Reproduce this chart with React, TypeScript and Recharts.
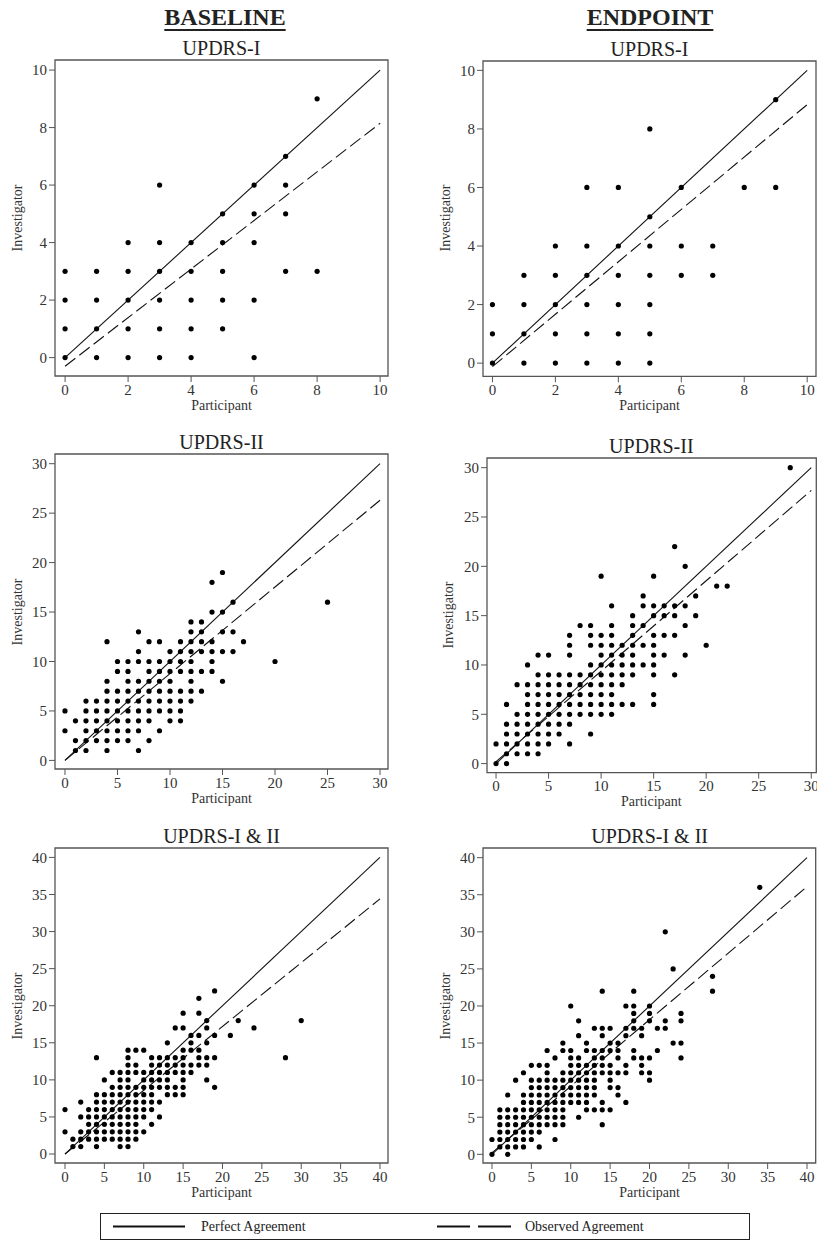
import {
  ReferenceArea,
  ReferenceLine,
  Scatter,
  ScatterChart,
  XAxis,
  YAxis,
} from "recharts";

// [participant score, investigator scores seen at that participant score]
type Column = [number, number[]];

const ticksI = [0, 2, 4, 6, 8, 10];
const ticksII = [0, 5, 10, 15, 20, 25, 30];
const ticksIII = [0, 5, 10, 15, 20, 25, 30, 35, 40];

const baselineI: Column[] = [
  [0, [0, 1, 2, 3]],
  [1, [0, 1, 2, 3]],
  [2, [0, 1, 2, 3, 4]],
  [3, [0, 1, 2, 3, 4, 6]],
  [4, [0, 1, 2, 3, 4]],
  [5, [1, 2, 3, 4, 5]],
  [6, [0, 2, 4, 5, 6]],
  [7, [3, 5, 6, 7]],
  [8, [3, 9]],
];

const endpointI: Column[] = [
  [0, [0, 1, 2]],
  [1, [0, 1, 2, 3]],
  [2, [0, 1, 2, 3, 4]],
  [3, [0, 1, 2, 3, 4, 6]],
  [4, [0, 1, 2, 3, 4, 6]],
  [5, [0, 1, 2, 3, 4, 5, 8]],
  [6, [3, 4, 6]],
  [7, [3, 4]],
  [8, [6]],
  [9, [6, 9]],
];

const baselineII: Column[] = [
  [0, [3, 5]],
  [1, [1, 2, 4]],
  [2, [1, 2, 3, 4, 5, 6]],
  [3, [2, 3, 4, 5, 6]],
  [4, [1, 2, 3, 4, 5, 6, 7, 8, 12]],
  [5, [2, 3, 4, 5, 6, 7, 9, 10]],
  [6, [2, 3, 4, 5, 6, 7, 8, 9, 10]],
  [7, [1, 3, 4, 5, 6, 7, 8, 10, 11, 13]],
  [8, [2, 4, 5, 6, 7, 8, 9, 10, 12]],
  [9, [3, 5, 6, 7, 8, 9, 10, 12]],
  [10, [4, 5, 6, 7, 8, 9, 10, 11]],
  [11, [4, 5, 6, 7, 9, 10, 11, 12]],
  [12, [6, 7, 8, 9, 10, 11, 12, 13, 14]],
  [13, [7, 9, 11, 12, 13, 14]],
  [14, [9, 10, 11, 12, 15, 18]],
  [15, [8, 11, 13, 15, 19]],
  [16, [11, 13, 16]],
  [17, [12]],
  [20, [10]],
  [25, [16]],
];

const endpointII: Column[] = [
  [0, [0, 2]],
  [1, [0, 1, 2, 3, 4, 6]],
  [2, [1, 2, 3, 4, 5, 8]],
  [3, [1, 2, 3, 4, 5, 6, 7, 8, 10]],
  [4, [1, 2, 3, 4, 5, 6, 7, 8, 9, 11]],
  [5, [2, 3, 4, 5, 6, 7, 8, 9, 11]],
  [6, [3, 4, 5, 6, 7, 8, 9]],
  [7, [2, 4, 5, 6, 7, 8, 9, 11, 12, 13]],
  [8, [5, 6, 7, 8, 9, 14]],
  [9, [3, 5, 6, 7, 8, 9, 10, 12, 13, 14]],
  [10, [5, 6, 7, 8, 9, 10, 11, 12, 13, 19]],
  [11, [5, 6, 7, 8, 9, 10, 11, 12, 13, 14, 16]],
  [12, [6, 8, 9, 10, 11, 12]],
  [13, [6, 9, 10, 11, 12, 13, 14, 15]],
  [14, [10, 12, 14, 16, 17]],
  [15, [6, 7, 9, 10, 11, 12, 13, 15, 16, 19]],
  [16, [11, 13, 15, 16]],
  [17, [9, 13, 15, 16, 22]],
  [18, [11, 14, 16, 20]],
  [19, [15, 17]],
  [20, [12]],
  [21, [18]],
  [22, [18]],
  [28, [30]],
];

const baselineIII: Column[] = [
  [0, [3, 6]],
  [1, [1, 2]],
  [2, [1, 2, 3, 5, 7]],
  [3, [2, 3, 4, 5, 6]],
  [4, [1, 2, 3, 4, 5, 6, 7, 8, 13]],
  [5, [2, 3, 4, 5, 6, 7, 8, 10]],
  [6, [2, 3, 4, 5, 6, 7, 8, 9, 11]],
  [7, [1, 2, 3, 4, 5, 6, 7, 8, 9, 10, 11]],
  [8, [1, 2, 3, 4, 5, 6, 7, 8, 9, 10, 11, 12, 13, 14]],
  [9, [2, 3, 4, 5, 6, 7, 8, 9, 11, 12, 14]],
  [10, [3, 5, 6, 7, 8, 9, 10, 11, 14]],
  [11, [4, 6, 7, 8, 9, 10, 11, 12, 13]],
  [12, [5, 7, 9, 10, 11, 12, 13]],
  [13, [8, 9, 10, 11, 12, 13, 15]],
  [14, [8, 9, 11, 12, 13, 17]],
  [15, [8, 9, 10, 11, 12, 13, 14, 17, 19]],
  [16, [11, 12, 14, 15, 16]],
  [17, [12, 13, 14, 16, 19, 21]],
  [18, [10, 12, 13, 15, 17, 18]],
  [19, [9, 13, 16, 22]],
  [21, [16]],
  [22, [18]],
  [24, [17]],
  [28, [13]],
  [30, [18]],
];

const endpointIII: Column[] = [
  [0, [0, 2]],
  [1, [1, 2, 3, 4, 5, 6]],
  [2, [0, 1, 2, 3, 4, 5, 6, 8]],
  [3, [1, 2, 3, 4, 5, 6, 10]],
  [4, [1, 2, 3, 4, 5, 6, 7, 8, 11]],
  [5, [2, 3, 4, 5, 6, 7, 8, 9, 10, 12]],
  [6, [1, 3, 4, 5, 6, 7, 8, 9, 10, 12]],
  [7, [4, 5, 6, 7, 8, 9, 10, 11, 12, 14]],
  [8, [2, 4, 5, 6, 7, 8, 9, 10, 13]],
  [9, [4, 5, 6, 7, 8, 9, 10, 11, 14, 15]],
  [10, [7, 8, 9, 10, 11, 12, 13, 14, 20]],
  [11, [5, 7, 8, 9, 10, 11, 12, 13, 16, 18]],
  [12, [6, 7, 8, 9, 10, 11, 12, 14, 15]],
  [13, [6, 8, 9, 10, 11, 12, 13, 14, 17]],
  [14, [4, 6, 7, 11, 12, 13, 14, 16, 17, 22]],
  [15, [6, 9, 10, 11, 12, 14, 15, 17]],
  [16, [8, 9, 11, 13, 14, 15]],
  [17, [7, 11, 12, 16, 17, 20]],
  [18, [13, 14, 17, 18, 19, 20, 22]],
  [19, [11, 12, 13, 16, 17]],
  [20, [10, 11, 13, 18, 19, 20]],
  [21, [14, 17]],
  [22, [17, 18, 30]],
  [23, [15, 25]],
  [24, [13, 15, 18, 19]],
  [28, [22, 24]],
  [34, [36]],
];

// observed agreement line: investigator value at participant = 0 and at the axis max
const baselineIFit = [-0.3, 8.15];
const endpointIFit = [-0.12, 8.83];
const baselineIIFit = [0.0, 26.3];
const endpointIIFit = [0.2, 27.7];
const baselineIIIFit = [0.0, 34.4];
const endpointIIIFit = [0.2, 36.1];

const FONT = '"Liberation Serif", "Times New Roman", serif';
const AXIS_COLOR = "#555";

interface Box {
  l: number;
  t: number;
  r: number;
  b: number;
}

interface PanelProps {
  title: string;
  cols: Column[];
  fit: number[];
  max: number;
  ticks: number[];
  box: Box;
  xDom: [number, number];
  yDom: [number, number];
}

const Dot = (props: any) => (
  <circle cx={props.cx} cy={props.cy} r={2.6} fill="#000" />
);

function Panel({ title, cols, fit, max, ticks, box, xDom, yDom }: PanelProps) {
  const data = cols.flatMap(([x, ys]) => ys.map((y) => ({ x, y })));
  const yAxisW = 45;
  const xAxisH = 35;
  const boxW = box.r - box.l;
  const boxH = box.b - box.t;
  const cx = box.l + boxW / 2;
  const cy = box.t + boxH / 2;

  return (
    <>
      <div
        style={{
          position: "absolute",
          left: cx - 100,
          width: 200,
          top: box.t - 22,
          height: 20,
          lineHeight: "20px",
          textAlign: "center",
          fontFamily: FONT,
          fontSize: 20,
          color: "#222",
        }}
      >
        {title}
      </div>
      <div
        style={{
          position: "absolute",
          left: box.l - yAxisW,
          top: box.t - 10,
        }}
      >
        <ScatterChart
          width={boxW + yAxisW + 10}
          height={boxH + 10 + xAxisH}
          margin={{ top: 10, right: 10, bottom: 0, left: 0 }}
        >
          <XAxis
            type="number"
            dataKey="x"
            domain={xDom}
            ticks={ticks}
            interval={0}
            allowDataOverflow
            height={xAxisH}
            axisLine={false}
            tickLine={{ stroke: AXIS_COLOR }}
            tickSize={6}
            tick={{ fill: "#333", fontSize: 15, fontFamily: FONT }}
          />
          <YAxis
            type="number"
            dataKey="y"
            domain={yDom}
            ticks={ticks}
            interval={0}
            allowDataOverflow
            width={yAxisW}
            axisLine={false}
            tickLine={{ stroke: AXIS_COLOR }}
            tickSize={6}
            tick={{ fill: "#333", fontSize: 15, fontFamily: FONT }}
          />
          <ReferenceArea
            x1={xDom[0]}
            x2={xDom[1]}
            y1={yDom[0]}
            y2={yDom[1]}
            fill="none"
            stroke={AXIS_COLOR}
            strokeWidth={1.3}
            ifOverflow="visible"
          />
          <Scatter data={data} shape={Dot} isAnimationActive={false} />
          <ReferenceLine
            segment={[
              { x: 0, y: 0 },
              { x: max, y: max },
            ]}
            stroke="#111"
            strokeWidth={1.1}
            ifOverflow="visible"
          />
          <ReferenceLine
            segment={[
              { x: 0, y: fit[0] },
              { x: max, y: fit[1] },
            ]}
            stroke="#111"
            strokeWidth={1.1}
            strokeDasharray="13 5"
            ifOverflow="visible"
          />
        </ScatterChart>
      </div>
      <div
        style={{
          position: "absolute",
          left: box.l - 37.5 - 60,
          width: 120,
          top: cy - 8,
          height: 16,
          lineHeight: "16px",
          textAlign: "center",
          transform: "rotate(-90deg)",
          fontFamily: FONT,
          fontSize: 14,
          color: "#333",
        }}
      >
        Investigator
      </div>
      <div
        style={{
          position: "absolute",
          left: cx - 60,
          width: 120,
          top: box.b + 22,
          height: 16,
          lineHeight: "16px",
          textAlign: "center",
          fontFamily: FONT,
          fontSize: 14,
          color: "#333",
        }}
      >
        Participant
      </div>
    </>
  );
}

const headStyle = {
  position: "absolute" as const,
  width: 240,
  top: 5,
  height: 24,
  lineHeight: "24px",
  textAlign: "center" as const,
  fontFamily: FONT,
  fontSize: 24,
  fontWeight: 700,
  color: "#222",
  textDecoration: "underline",
  textDecorationThickness: 2,
  textUnderlineOffset: 4,
};

export default function App() {
  return (
    <div
      style={{
        position: "absolute",
        left: 0,
        top: 0,
        width: 817,
        height: 1241,
        overflow: "hidden",
        background: "#fff",
      }}
    >
      <div style={{ ...headStyle, left: 225 - 120 }}>BASELINE</div>
      <div style={{ ...headStyle, left: 650 - 120 }}>ENDPOINT</div>

      <Panel
        title="UPDRS-I"
        cols={baselineI}
        fit={baselineIFit}
        max={10}
        ticks={ticksI}
        box={{ l: 55, t: 60, r: 388, b: 376 }}
        xDom={[-0.32, 10.25]}
        yDom={[-0.64, 10.35]}
      />
      <Panel
        title="UPDRS-I"
        cols={endpointI}
        fit={endpointIFit}
        max={10}
        ticks={ticksI}
        box={{ l: 483, t: 60.7, r: 816, b: 376 }}
        xDom={[-0.3, 10.28]}
        yDom={[-0.45, 10.32]}
      />
      <Panel
        title="UPDRS-II"
        cols={baselineII}
        fit={baselineIIFit}
        max={30}
        ticks={ticksII}
        box={{ l: 55, t: 454.3, r: 388, b: 769.3 }}
        xDom={[-0.95, 30.76]}
        yDom={[-0.87, 30.98]}
      />
      <Panel
        title="UPDRS-II"
        cols={endpointII}
        fit={endpointIIFit}
        max={30}
        ticks={ticksII}
        box={{ l: 486.7, t: 457.7, r: 816, b: 772.3 }}
        xDom={[-0.86, 30.48]}
        yDom={[-0.91, 30.98]}
      />
      <Panel
        title="UPDRS-I & II"
        cols={baselineIII}
        fit={baselineIIIFit}
        max={40}
        ticks={ticksIII}
        box={{ l: 55, t: 848.3, r: 388, b: 1163.3 }}
        xDom={[-1.27, 41.02]}
        yDom={[-1.21, 41.27]}
      />
      <Panel
        title="UPDRS-I & II"
        cols={endpointIII}
        fit={endpointIIIFit}
        max={40}
        ticks={ticksIII}
        box={{ l: 483.3, t: 848, r: 816, b: 1163 }}
        xDom={[-1.14, 41.1]}
        yDom={[-1.17, 41.3]}
      />

      <div
        style={{
          position: "absolute",
          left: 100,
          top: 1213,
          width: 650,
          height: 27,
          boxSizing: "border-box",
          border: "1.5px solid #222",
        }}
      >
        <svg width={647} height={24} style={{ display: "block" }}>
          <line x1={12} x2={84} y1={12.5} y2={12.5} stroke="#111" strokeWidth={2} />
          <text x={100} y={17} fontFamily={FONT} fontSize={14} fill="#222">
            Perfect Agreement
          </text>
          <line
            x1={336}
            x2={410}
            y1={12.5}
            y2={12.5}
            stroke="#111"
            strokeWidth={2}
            strokeDasharray="33 8"
          />
          <text x={424} y={17} fontFamily={FONT} fontSize={14} fill="#222">
            Observed Agreement
          </text>
        </svg>
      </div>
    </div>
  );
}
